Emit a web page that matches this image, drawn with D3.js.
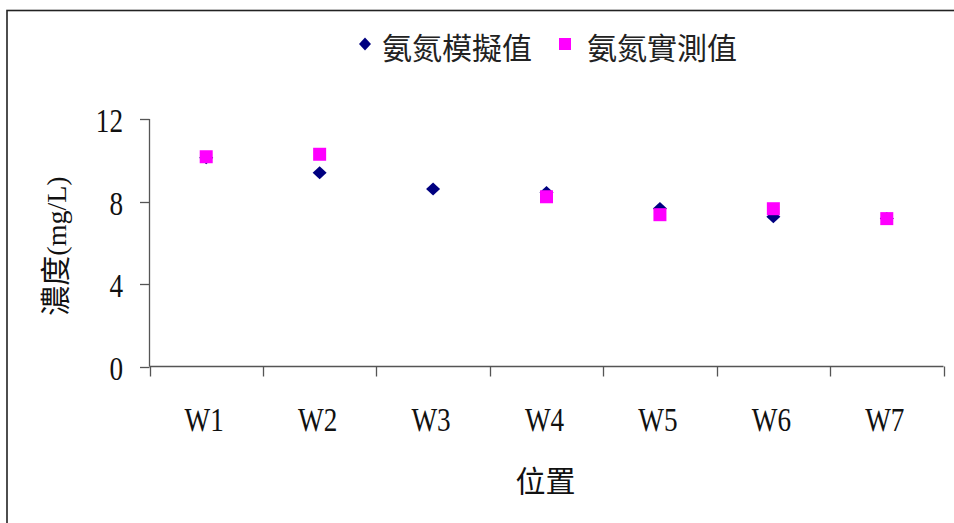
<!DOCTYPE html>
<html>
<head>
<meta charset="utf-8">
<script src="https://cdn.jsdelivr.net/npm/d3@7/dist/d3.min.js"></script>
<style>
  html, body { margin: 0; padding: 0; background: #fff; }
  svg { display: block; }
</style>
</head>
<body>
<script>
// Ammonia-nitrogen concentration at each well: simulated vs measured
const categories = ["W1", "W2", "W3", "W4", "W5", "W6", "W7"];
const simulated = [10.12, 9.4, 8.61, 8.44, 7.66, 7.26, 7.17];
const measured = [10.17, 10.29, null, 8.23, 7.36, 7.65, 7.17];
const yTicks = [0, 4, 8, 12];
const seriesNames = ["氨氮模擬值", "氨氮實測值"];
const yTitleCJK = "濃度";
const yTitleUnit = "(mg/L)";
const xTitle = "位置";

const W = 954, H = 523;
const CJK = "'Noto Sans CJK TC', 'Noto Sans CJK SC', sans-serif";
const SERIF = "'Liberation Serif', 'DejaVu Serif', serif";
const NAVY = "#000080", MAGENTA = "#FF00FF";

const svg = d3.select("body").append("svg")
  .attr("width", W).attr("height", H);

// outer frame
svg.append("rect")
  .attr("x", 7).attr("y", 10.5)
  .attr("width", W + 20).attr("height", H + 20)
  .attr("fill", "none").attr("stroke", "#222").attr("stroke-width", 1.6);

const x = d3.scaleBand().domain(categories).range([149.5, 943.5]).padding(0);
const y = d3.scaleLinear().domain([0, 12]).range([366.5, 119]);

const axisColor = "#555";

// y axis line and ticks
const gy = svg.append("g");
gy.append("line")
  .attr("x1", 149.5).attr("x2", 149.5)
  .attr("y1", y(12)).attr("y2", y(0))
  .attr("stroke", axisColor).attr("stroke-width", 1.3);
gy.selectAll("line.tick").data(yTicks).join("line")
  .attr("class", "tick")
  .attr("x1", 140).attr("x2", 149.5)
  .attr("y1", d => Math.round(y(d)) + 0.5).attr("y2", d => Math.round(y(d)) + 0.5)
  .attr("stroke", axisColor).attr("stroke-width", 1.3);
gy.selectAll("text").data(yTicks).join("text")
  .attr("transform", d => `translate(123,${y(d) + 13}) scale(0.8,1)`)
  .attr("text-anchor", "end")
  .attr("font-family", SERIF).attr("font-size", 34)
  .attr("fill", "#111")
  .text(d => d);

// x axis line, boundary ticks and category labels
const gx = svg.append("g");
gx.append("line")
  .attr("x1", 149.5).attr("x2", 943.5)
  .attr("y1", y(0)).attr("y2", y(0))
  .attr("stroke", axisColor).attr("stroke-width", 1.3);
const bounds = categories.map(c => x(c)).concat([x(categories[categories.length - 1]) + x.bandwidth()]);
gx.selectAll("line.tick").data(bounds).join("line")
  .attr("class", "tick")
  .attr("x1", d => Math.round(d) + 0.5).attr("x2", d => Math.round(d) + 0.5)
  .attr("y1", y(0)).attr("y2", y(0) + 10)
  .attr("stroke", axisColor).attr("stroke-width", 1.3);
gx.selectAll("text").data(categories).join("text")
  .attr("transform", d => `translate(${x(d) + x.bandwidth() / 2 - 2},431) scale(0.8,1)`)
  .attr("text-anchor", "middle")
  .attr("font-family", SERIF).attr("font-size", 34)
  .attr("fill", "#111")
  .text(d => d);

// axis titles
const yt = svg.append("text")
  .attr("transform", "translate(55,246) rotate(-90)")
  .attr("y", 11)
  .attr("text-anchor", "middle")
  .attr("fill", "#111");
yt.append("tspan").attr("font-family", CJK).attr("font-size", 30).text(yTitleCJK);
yt.append("tspan").attr("font-family", SERIF).attr("font-size", 28).text(yTitleUnit);

svg.append("text")
  .attr("x", 545.5).attr("y", 479)
  .attr("text-anchor", "middle").attr("dominant-baseline", "central")
  .attr("font-family", CJK).attr("font-size", 30).attr("fill", "#111")
  .text(xTitle);

// markers
const diamond = (cx, cy, hw, hh) =>
  `M${cx},${cy - hh}L${cx + hw},${cy}L${cx},${cy + hh}L${cx - hw},${cy}Z`;

const pts = categories.map((c, i) => ({ c, sim: simulated[i], obs: measured[i] }));

svg.append("g").selectAll("path").data(pts.filter(d => d.sim != null)).join("path")
  .attr("d", d => diamond(x(d.c) + x.bandwidth() / 2, y(d.sim), 7, 6.5))
  .attr("fill", NAVY);

svg.append("g").selectAll("rect").data(pts.filter(d => d.obs != null)).join("rect")
  .attr("x", d => x(d.c) + x.bandwidth() / 2 - 6.5)
  .attr("y", d => y(d.obs) - 6.5)
  .attr("width", 13).attr("height", 13)
  .attr("fill", MAGENTA);

// legend
const lg = svg.append("g");
lg.append("path").attr("d", diamond(365, 44, 6, 6.5)).attr("fill", NAVY);
lg.append("text")
  .attr("x", 382).attr("y", 46).attr("dominant-baseline", "central")
  .attr("font-family", CJK).attr("font-size", 30).attr("fill", "#222")
  .text(seriesNames[0]);
lg.append("rect").attr("x", 559).attr("y", 38).attr("width", 12).attr("height", 12).attr("fill", MAGENTA);
lg.append("text")
  .attr("x", 587).attr("y", 46).attr("dominant-baseline", "central")
  .attr("font-family", CJK).attr("font-size", 30).attr("fill", "#222")
  .text(seriesNames[1]);
</script>
</body>
</html>
